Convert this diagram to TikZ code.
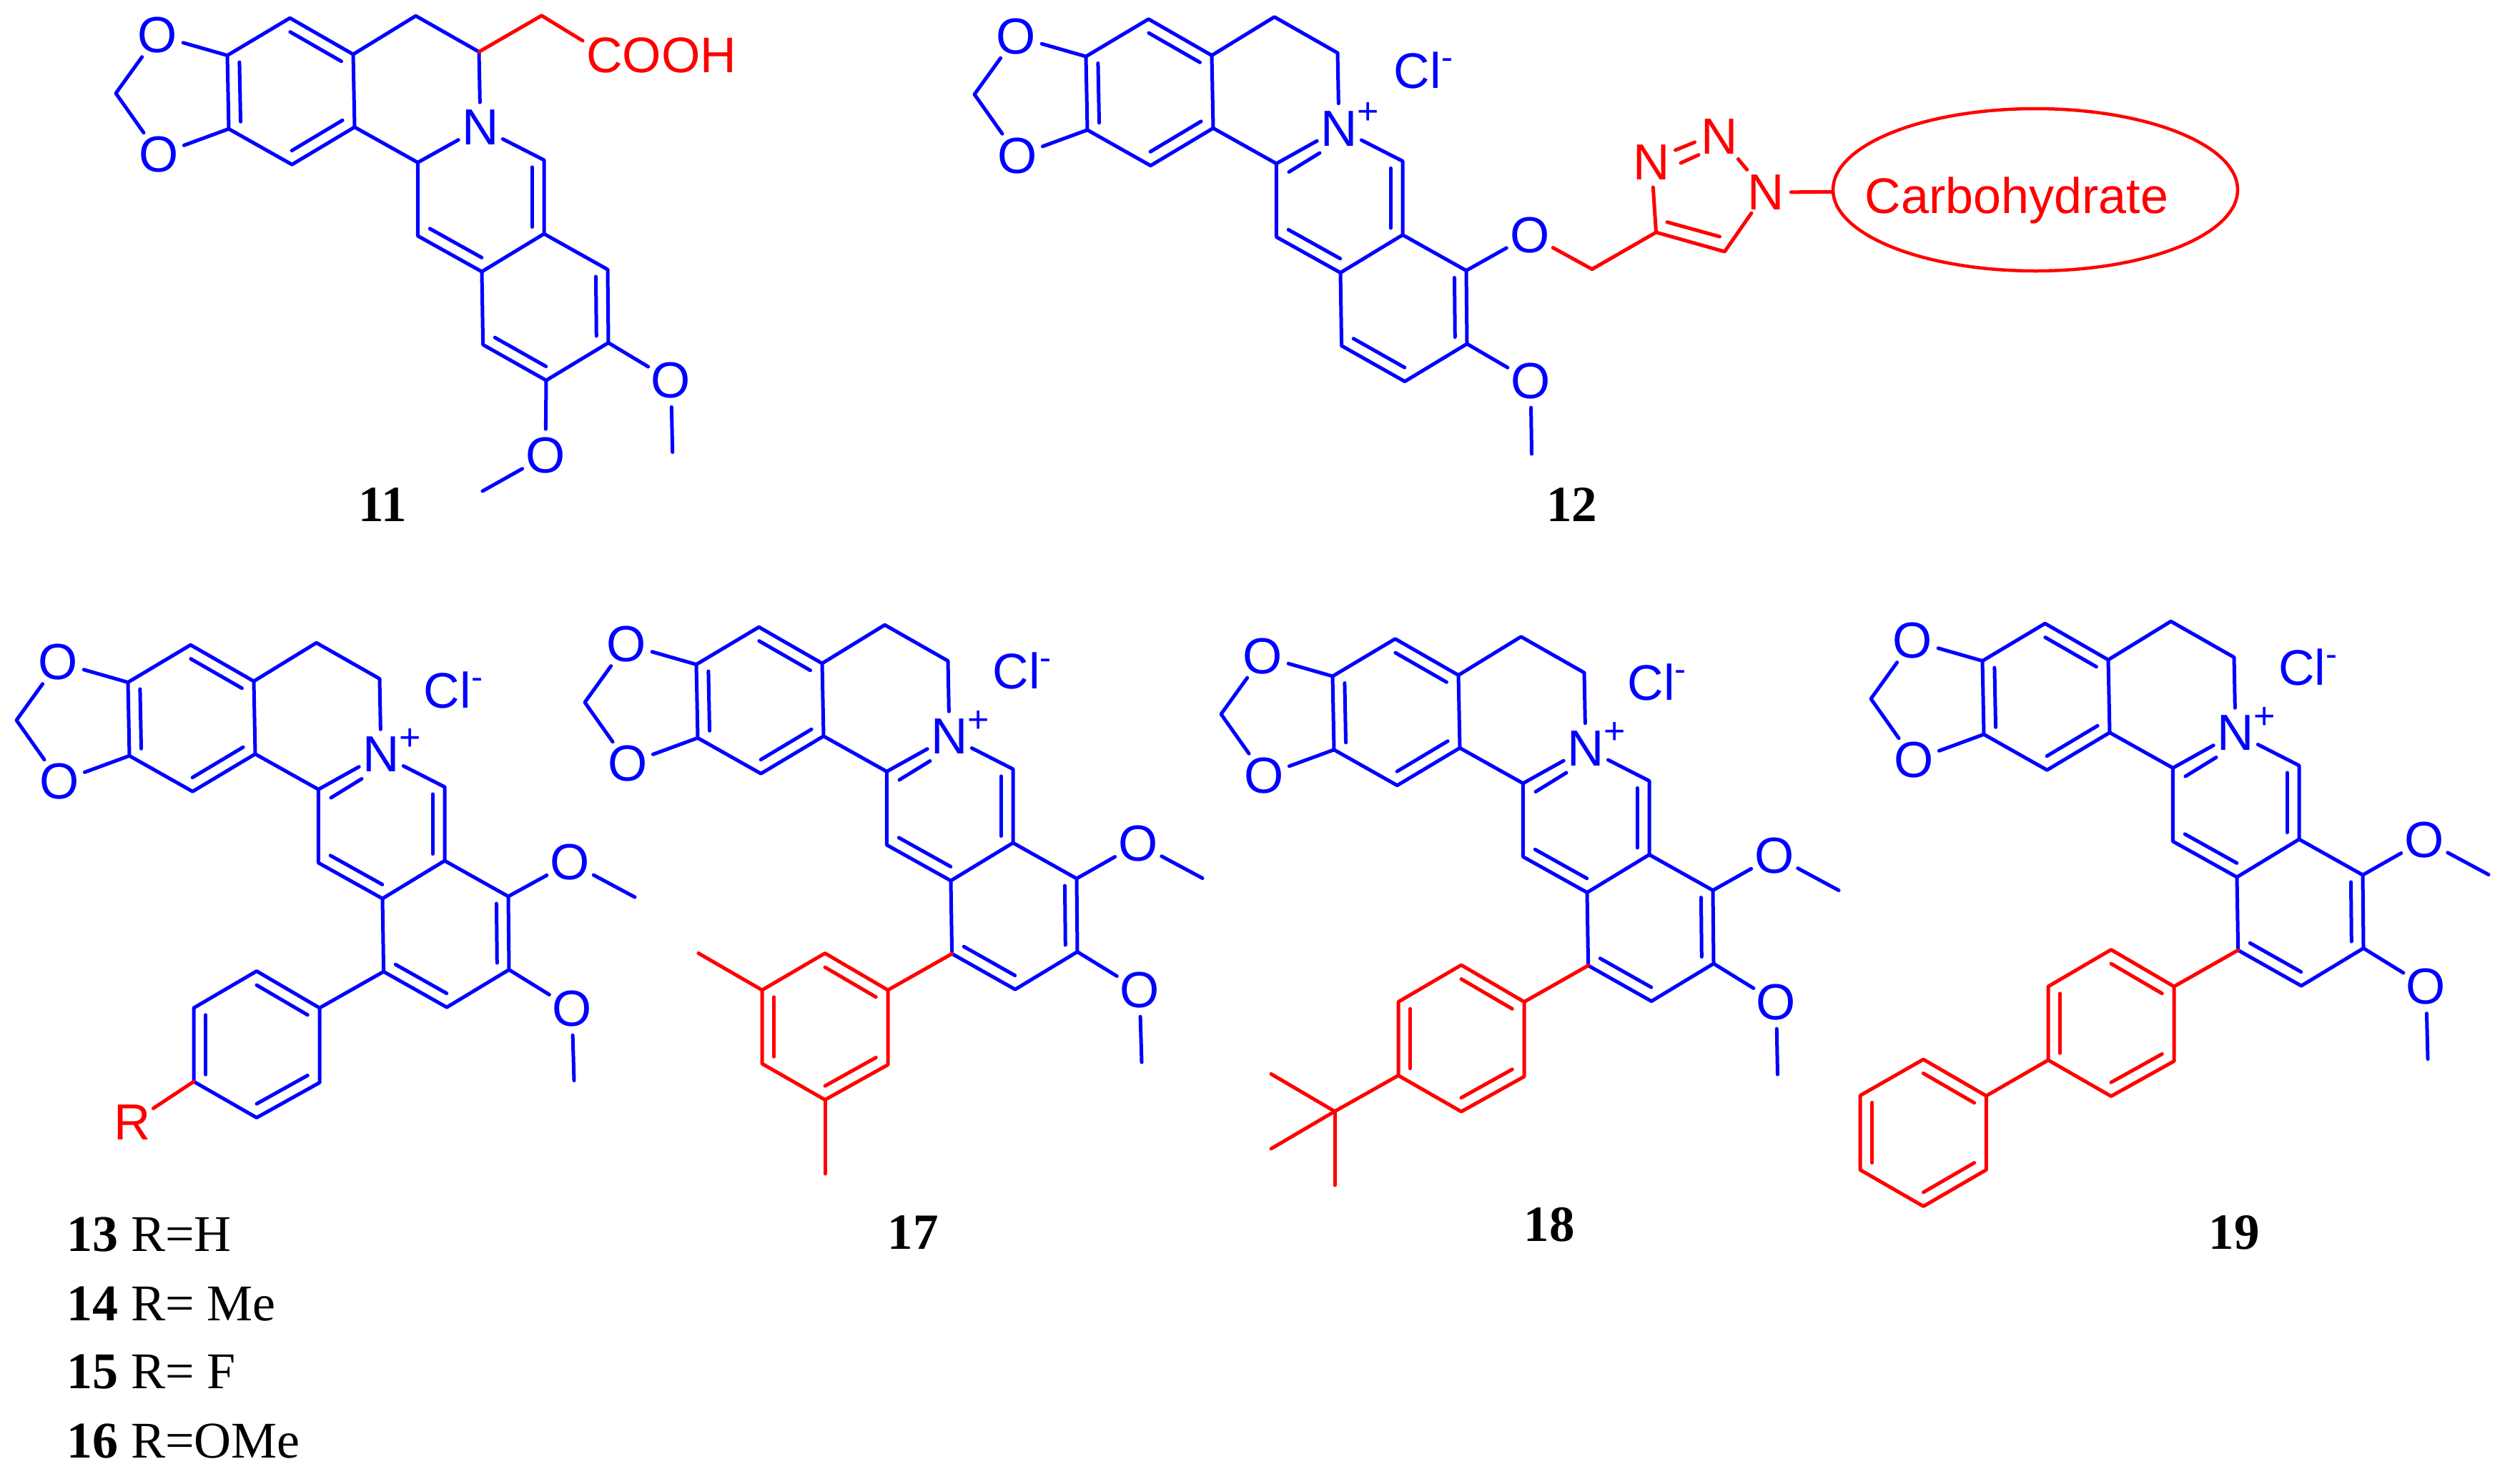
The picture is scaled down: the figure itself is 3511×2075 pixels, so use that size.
\documentclass[tikz,border=0pt]{standalone}
\usepackage{fontspec}
\setmainfont{Liberation Serif}
\newfontfamily\atomfont{Liberation Sans}
\usetikzlibrary{calc,shapes.geometric}
\definecolor{mblue}{RGB}{0,0,255}
\definecolor{mred}{RGB}{255,0,0}
\tikzset{
  mol/.style n args={3}{shift={(#1,#2)},name prefix=#3-},
  bb/.style={line width=5pt,draw=mblue,line cap=round,line join=round},
  rb/.style={line width=5pt,draw=mred,line cap=round,line join=round},
  atom/.style={circle,inner sep=0pt,outer sep=0pt,minimum size=70pt,text=mblue,
    font=\atomfont\fontsize{71}{71}\selectfont},
  ratom/.style={atom,text=mred},
  numlabel/.style={anchor=base,inner sep=0pt,font=\bfseries\fontsize{71}{71}\selectfont},
  listlabel/.style={anchor=base west,inner sep=0pt,font=\fontsize{72}{72}\selectfont},
  clion/.style={anchor=base,inner sep=0pt,text=mblue,font=\atomfont\fontsize{70}{70}\selectfont},
}
\newcommand{\dbl}[4]{\draw[#1] ($(#2)!.19!(#4)$) -- ($(#3)!.19!(#4)$);}
% common skeleton, coordinates relative to the molecule anchor
\newcommand{\core}{%
  \coordinate (a1) at (0,0);
  \coordinate (a2) at (87.6,-52.3);
  \coordinate (a3) at (176,-1.5);
  \coordinate (a4) at (178,100.3);
  \coordinate (a5) at (90.4,152.7);
  \coordinate (a6) at (2,102.8);
  \coordinate (ca) at (89,50);
  \coordinate (r1) at (263.6,-55.3);
  \coordinate (r2) at (352,-5);
  \coordinate (b) at (266.4,149.8);
  \coordinate (c) at (443,146.4);
  \coordinate (c2) at (443,249.6);
  \coordinate (d) at (266.4,252.5);
  \coordinate (e) at (356,302.5);
  \coordinate (f) at (532,299.5);
  \coordinate (g) at (533,402);
  \coordinate (h) at (446,454.6);
  \coordinate (i) at (357.6,404.7);
  \coordinate (cc) at (355,199);
  \coordinate (cd) at (445,352);
  \coordinate (ch) at (-156,53);
  \node[atom] (O1) at (-97.6,-28) {O};
  \node[atom] (O2) at (-95.5,138.6) {O};
  \node[atom] (N) at (354,101) {N};
  \draw[bb] (a1) -- (a2) -- (a3) -- (a4) -- (a5) -- (a6) -- cycle;
  \draw[bb] (O1) -- (a1);
  \draw[bb] (O2) -- (a6);
  \draw[bb] (O1) -- (ch) -- (O2);
  \draw[bb] (a3) -- (r1) -- (r2) -- (N);
  \draw[bb] (a4) -- (b) -- (N);
  \draw[bb] (N) -- (c) -- (c2) -- (e) -- (d) -- (b);
  \draw[bb] (c2) -- (f) -- (g) -- (h) -- (i) -- (e);
  \dbl{bb}{a1}{a6}{ca}
  \dbl{bb}{a2}{a3}{ca}
  \dbl{bb}{a4}{a5}{ca}
  \dbl{bb}{c}{c2}{cc}
  \dbl{bb}{d}{e}{cc}
  \dbl{bb}{f}{g}{cd}
  \dbl{bb}{i}{h}{cd}
}
% iminium: plus charge, chloride, inner line of C=N
\newcommand{\salt}[2]{%
  \coordinate (ib1) at (284,161.5);
  \coordinate (ib2) at (327,135);
  \draw[bb] (ib1) -- (ib2);
  \node[inner sep=0pt,text=mblue,font=\atomfont\fontsize{52}{52}\selectfont] (plus) at (395,79.5) {+};
  \node[clion] (cl) at (#1,#2+25) {Cl\raisebox{27pt}{\fontsize{48}{48}\selectfont -}};
}
% methoxy: #1 ring atom, #2 name of O, #3 O position, #4 methyl end
\newcommand{\ome}[4]{%
  \node[atom] (#2) at (#3) {O};
  \coordinate (#2me) at (#4);
  \draw[bb] (#1) -- (#2);
  \draw[bb] (#2) -- (#2me);
}
% pendant aryl ring on atom i, #1 = ipso-bond and ring style
\newcommand{\aryl}[1]{%
  \coordinate (p1) at (268,455.5);
  \coordinate (p2) at (180,404);
  \coordinate (p3) at (92,455.5);
  \coordinate (p4) at (92,558.5);
  \coordinate (p5) at (180,609);
  \coordinate (p6) at (268,560);
  \coordinate (cp) at (180,507);
  \draw[#1] (i) -- (p1);
  \draw[#1] (p1) -- (p2) -- (p3) -- (p4) -- (p5) -- (p6) -- cycle;
  \dbl{#1}{p1}{p2}{cp}
  \dbl{#1}{p3}{p4}{cp}
  \dbl{#1}{p5}{p6}{cp}
}
\begin{document}
\begin{tikzpicture}[x=1pt,y=-1pt]
\useasboundingbox (0,0) rectangle (3511,2075);

% ---------- 11
\begin{scope}[mol={318}{77.5}{m11}]
  \core
  \ome{g}{Oa}{620.6,454.7}{622.7,555}
  \ome{h}{Ob}{445,560}{357,609.5}
  \coordinate (r3) at (439.6,-55.7);
  \coordinate (cend) at (497,-20.5);
  \draw[rb] (r2) -- (r3) -- (cend);
  \node[anchor=base west,inner sep=0pt,text=mred,font=\atomfont\fontsize{70}{70}\selectfont] (cooh) at (502,23.5) {COOH};
\end{scope}
\node[numlabel] (l11) at (535,729.5) {11};

% ---------- 12
\begin{scope}[mol={1519}{79}{m12}]
  \core
  \salt{472}{19}
  \ome{g}{Oa}{622,454}{623.5,556}
  \node[atom] (Oc) at (620.7,249.6) {O};
  \draw[bb] (f) -- (Oc);
\end{scope}
\node[numlabel] (l12) at (2198.6,729.5) {12};
\coordinate (tch) at (2227,376.6);
\coordinate (t4) at (2316.5,325);
\coordinate (t5) at (2412.4,352);
\node[ratom] (n3) at (2310,226.7) {N};
\node[ratom] (n2) at (2405,190.7) {N};
\node[ratom] (n1) at (2470,269.2) {N};
\draw[rb] (m12-Oc) -- (tch) -- (t4) -- (t5) -- (n1);
\draw[rb] (t4) -- (n3);
\draw[rb,shorten <=6pt,shorten >=6pt] (n2) -- (n1);
\coordinate (nn1a) at (2343.5,210);
\coordinate (nn1b) at (2370.5,199);
\coordinate (nn2a) at (2351,228);
\coordinate (nn2b) at (2376,216.7);
\draw[rb] (nn1a) -- (nn1b);
\draw[rb] (nn2a) -- (nn2b);
\coordinate (ti1) at (2332,310.7);
\coordinate (ti2) at (2405.5,331);
\draw[rb] (ti1) -- (ti2);
\node[ellipse,draw=mred,line width=4.5pt,inner sep=0pt,minimum width=566pt,minimum height=227pt] (carb) at (2847,265.5) {};
\node[anchor=base,inner sep=0pt,text=mred,font=\atomfont\fontsize{70}{70}\selectfont] (carbt) at (2821,298) {Carbohydrate};
\draw[rb] (n1) -- (carb);

% ---------- 13-16
\begin{scope}[mol={179}{954.5}{m13}]
  \core
  \salt{455}{10.5}
  \ome{f}{Oa}{618.5,252}{709,300.5}
  \ome{g}{Ob}{621,456.5}{624,557}
  \aryl{bb}
  \node[ratom] (R) at (6,615.5) {R};
  \draw[rb] (p4) -- (R);
\end{scope}
\node[listlabel] (l13) at (93,1750) {\textbf{13} R=H};
\node[listlabel] (l14) at (93,1847) {\textbf{14} R= Me};
\node[listlabel] (l15) at (93,1942) {\textbf{15} R= F};
\node[listlabel] (l16) at (93,2039) {\textbf{16} R=OMe};

% ---------- 17
\begin{scope}[mol={974}{929.5}{m17}]
  \core
  \salt{455.5}{9}
  \ome{f}{Oa}{618,250.7}{708,299}
  \ome{g}{Ob}{620,455.5}{623,556.5}
  \aryl{rb}
  \coordinate (me1) at (3,404);
  \coordinate (me2) at (180,712.5);
  \draw[rb] (p3) -- (me1);
  \draw[rb] (p5) -- (me2);
\end{scope}
\node[numlabel] (l17) at (1277,1747) {17};

% ---------- 18
\begin{scope}[mol={1864}{946}{m18}]
  \core
  \salt{453.5}{8.4}
  \ome{f}{Oa}{618,251}{708,299.5}
  \ome{g}{Ob}{620.5,456}{622.5,557}
  \aryl{rb}
  \coordinate (tb) at (3,608.7);
  \coordinate (tb1) at (-86,556.4);
  \coordinate (tb2) at (-86,661);
  \coordinate (tb3) at (3,712);
  \draw[rb] (p4) -- (tb);
  \draw[rb] (tb) -- (tb1);
  \draw[rb] (tb) -- (tb2);
  \draw[rb] (tb) -- (tb3);
\end{scope}
\node[numlabel] (l18) at (2167,1736.5) {18};

% ---------- 19
\begin{scope}[mol={2773}{924.5}{m19}]
  \core
  \salt{455}{8.5}
  \ome{f}{Oa}{618,250.6}{708,299}
  \ome{g}{Ob}{620.5,456}{623,557}
  \aryl{rb}
  \coordinate (q1) at (5.3,608.5);
  \coordinate (q2) at (5.3,712);
  \coordinate (q3) at (-82.6,763);
  \coordinate (q4) at (-171,712);
  \coordinate (q5) at (-171,608);
  \coordinate (q6) at (-82.6,557.5);
  \coordinate (cq) at (-82.6,660);
  \draw[rb] (p4) -- (q1);
  \draw[rb] (q1) -- (q2) -- (q3) -- (q4) -- (q5) -- (q6) -- cycle;
  \dbl{rb}{q1}{q6}{cq}
  \dbl{rb}{q4}{q5}{cq}
  \dbl{rb}{q2}{q3}{cq}
\end{scope}
\node[numlabel] (l19) at (3125,1747) {19};
\end{tikzpicture}
\end{document}
